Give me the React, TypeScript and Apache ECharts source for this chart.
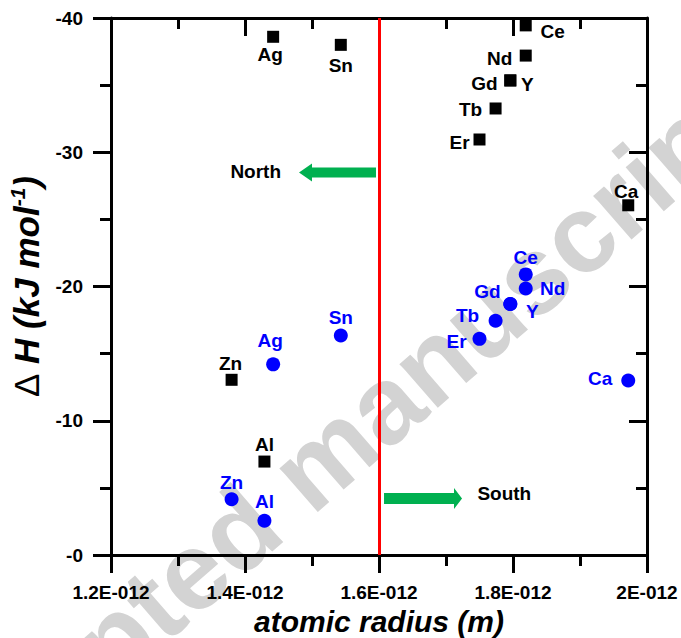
import React, { useEffect, useRef } from "react";
import * as echarts from "echarts";

// Elements (both series share the same x positions: atomic radius in units of 1E-12 m)
const elements = ["Ag", "Sn", "Ce", "Nd", "Gd", "Y", "Tb", "Er", "Ca", "Zn", "Al"];
const atomicRadius = [144.2, 154.3, 181.9, 181.9, 179.6, 179.6, 177.4, 175.0, 197.2, 138.0, 142.9];
// black squares
const dHSquares = [-38.6, -38.0, -39.45, -37.2, -35.35, -35.35, -33.26, -30.95, -26.05, -13.05, -6.96];
// blue circles
const dHCircles = [-14.2, -16.35, -20.9, -19.85, -18.7, -18.7, -17.45, -16.1, -13.0, -4.15, -2.55];

const xMin = 120;
const xMax = 200;
const xStep = 20;
const yMin = -40;
const yMax = 0;
const yStep = 10;
const boundaryRadius = 160;

// annotation anchors (data coordinates)
const northArrow = { tail: [159.55, -28.5], tip: [148.06, -28.5] };
const southArrow = { tail: [160.75, -4.2], tip: [172.39, -4.2] };
const northText = { text: "North", at: [141.6, -28.6] };
const southText = { text: "South", at: [178.7, -4.6] };

// label placement styles (pixel offsets from marker centre)
const squareLabelOffset: Record<string, number[]> = {
  Ag: [-3, 18], Sn: [0, 21], Ce: [27, 6], Nd: [-26, 3], Gd: [-26, 3], Y: [17, 4],
  Tb: [-25, 1], Er: [-20, 3], Ca: [-2, -14], Zn: [-1, -16], Al: [0, -17],
};
const circleLabelOffset: Record<string, number[]> = {
  Ag: [-3, -24], Sn: [0, -18], Ce: [0, -17], Nd: [27, 0], Gd: [-23, -12], Y: [22, 8],
  Tb: [-28, -5], Er: [-23, 3], Ca: [-28, -2], Zn: [0, -17], Al: [0, -19],
};

const FF = "'Liberation Sans', Arial, sans-serif";

export default function App() {
  const ref = useRef<HTMLDivElement>(null);
  useEffect(() => {
    if (!ref.current) return;
    const chart = echarts.init(ref.current, undefined, { renderer: "svg" });
    const axisLine = { show: true, onZero: false, lineStyle: { color: "#000", width: 3 } };
    const tickLbl = { fontFamily: FF, fontSize: 19, fontWeight: "bold", color: "#000" };
    const mkX = (pos: string, inside: boolean, labels: boolean) => ({
      type: "value", position: pos, min: xMin, max: xMax, interval: xStep,
      axisLine,
      axisTick: { show: true, inside, length: 18, lineStyle: { color: "#000", width: 3 } },
      minorTick: { show: true, splitNumber: 2, length: 11, lineStyle: { color: "#000", width: 3 } },
      splitLine: { show: false }, minorSplitLine: { show: false },
      axisLabel: labels
        ? { ...tickLbl, margin: 28, formatter: (v: number) => `${+(v / 100).toFixed(1)}E-012` }
        : { show: false },
    });
    const mkY = (pos: string, inside: boolean, labels: boolean) => ({
      type: "value", position: pos, inverse: true, min: yMin, max: yMax, interval: yStep,
      axisLine,
      axisTick: { show: true, inside, length: 18, lineStyle: { color: "#000", width: 3 } },
      minorTick: { show: true, splitNumber: 2, length: 11, lineStyle: { color: "#000", width: 3 } },
      splitLine: { show: false }, minorSplitLine: { show: false },
      axisLabel: labels
        ? { ...tickLbl, margin: 28, formatter: (v: number) => (v === 0 ? "-0" : String(v)) }
        : { show: false },
    });
    const xb: any = mkX("bottom", false, true);
    xb.name = "atomic radius (m)";
    xb.nameLocation = "middle";
    xb.nameGap = 42;
    xb.nameTextStyle = { fontFamily: FF, fontSize: 30, lineHeight: 30, fontWeight: "bold", fontStyle: "italic", color: "#000" };
    const yl: any = mkY("left", false, true);
    yl.name = "{d|Δ} {t|H (kJ mol}{s|-1}{t|)}";
    yl.nameLocation = "middle";
    yl.nameGap = 66;
    yl.nameTextStyle = {
      fontFamily: FF, fontSize: 35, fontWeight: "bold", fontStyle: "italic", color: "#000",
      rich: {
        d: { fontFamily: FF, fontSize: 35, fontWeight: "normal", fontStyle: "normal", color: "#000", lineHeight: 38 },
        t: { fontFamily: FF, fontSize: 35, fontWeight: "bold", fontStyle: "italic", color: "#000", lineHeight: 38 },
        s: { fontFamily: FF, fontSize: 21, fontWeight: "bold", fontStyle: "italic", color: "#000", lineHeight: 38, verticalAlign: "top", padding: [0, 0, 15, 0] },
      },
    };

    const lbl = (color: string) => ({
      show: true, position: "inside", formatter: "{b}", fontFamily: FF, fontSize: 19,
      fontWeight: "bold", color, align: "center", verticalAlign: "middle",
    });

    chart.setOption({
      animation: false,
      backgroundColor: "#fff",
      grid: { left: 111, right: 34, top: 18, bottom: 83, containLabel: false, outerBoundsMode: "none" },
      xAxis: [xb, mkX("top", true, false)],
      yAxis: [yl, mkY("right", true, false)],
      series: [
        {
          type: "scatter", name: "squares", symbol: "rect", symbolSize: 12, z: 4,
          itemStyle: { color: "#000", opacity: 1 },
          label: lbl("#000"),
          data: elements.map((n, i) => ({
            name: n, value: [atomicRadius[i], dHSquares[i]], label: { offset: squareLabelOffset[n] },
          })),
          markLine: {
            silent: true, symbol: ["none", "none"], label: { show: false },
            lineStyle: { color: "#ff0000", width: 3, type: "solid", opacity: 1 },
            data: [{ xAxis: boundaryRadius }],
          },
        },
        {
          type: "scatter", name: "circles", symbol: "circle", symbolSize: 14, z: 4,
          itemStyle: { color: "#0000ff", opacity: 1 },
          label: lbl("#0000ff"),
          data: elements.map((n, i) => ({
            name: n, value: [atomicRadius[i], dHCircles[i]], label: { offset: circleLabelOffset[n] },
          })),
        },
      ],
    });

    const toPx = (p: number[]) => chart.convertToPixel({ xAxisIndex: 0, yAxisIndex: 0 }, p) as number[];
    const arrow = (a: { tail: number[]; tip: number[] }, headLen: number, headHalf: number, shaftHalf: number) => {
      const t = toPx(a.tail);
      const p = toPx(a.tip);
      const dx = p[0] - t[0], dy = p[1] - t[1];
      const L = Math.hypot(dx, dy);
      const ux = dx / L, uy = dy / L, nx = -uy, ny = ux;
      const bx = p[0] - ux * headLen, by = p[1] - uy * headLen;
      return [
        [t[0] + nx * shaftHalf, t[1] + ny * shaftHalf],
        [bx + nx * shaftHalf, by + ny * shaftHalf],
        [bx + nx * headHalf, by + ny * headHalf],
        [p[0], p[1]],
        [bx - nx * headHalf, by - ny * headHalf],
        [bx - nx * shaftHalf, by - ny * shaftHalf],
        [t[0] - nx * shaftHalf, t[1] - ny * shaftHalf],
      ];
    };
    const txt = (o: { text: string; at: number[] }) => {
      const q = toPx(o.at);
      return {
        type: "text", x: q[0], y: q[1], z: 10,
        style: { text: o.text, fill: "#000", fontFamily: FF, fontSize: 19, fontWeight: "bold", align: "center", verticalAlign: "middle" },
      };
    };
    chart.setOption({
      graphic: [
        {
          type: "text", x: 312, y: 466, rotation: (41 * Math.PI) / 180, z: -10, silent: true,
          style: { text: "Accepted manuscript", fill: "#d3d3d3", fontFamily: FF, fontSize: 110, fontWeight: "bold", align: "center", verticalAlign: "middle" },
        },
        { type: "polygon", z: 10, shape: { points: arrow(northArrow, 13, 9, 5) }, style: { fill: "#00b050" } },
        { type: "polygon", z: 10, shape: { points: arrow(southArrow, 8, 10.5, 5.5) }, style: { fill: "#00b050" } },
        txt(northText),
        txt(southText),
      ],
    });
    return () => chart.dispose();
  }, []);
  return <div ref={ref} style={{ position: "fixed", left: 0, top: 0, width: 681, height: 638 }} />;
}
